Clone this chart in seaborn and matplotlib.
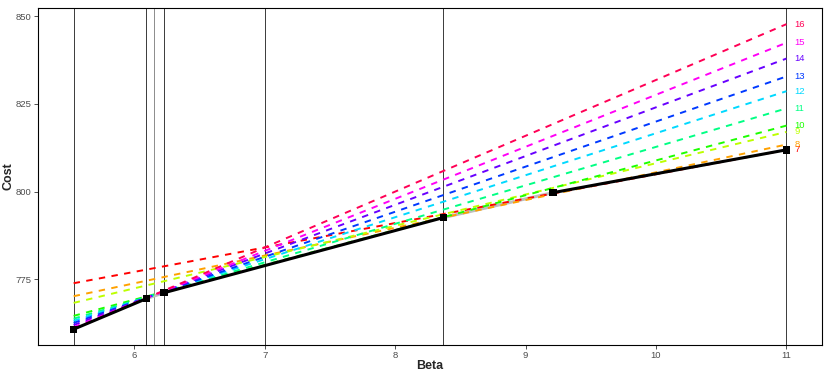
import colorsys
import matplotlib
matplotlib.use("Agg")
import matplotlib.pyplot as plt
import numpy as np
import pandas as pd
import seaborn as sns

# one dashed line per k, straight from the left edge to beta = 11
k_values = [7, 8, 9, 10, 11, 12, 13, 14, 15, 16]
beta_left = 5.535
beta_right = 11.0
cost_left = [773.9, 770.2, 768.3, 764.6, 763.8, 763.2, 762.6, 762.0, 761.4, 760.8]
cost_right = [811.9, 813.4, 817.0, 818.8, 823.7, 828.6, 832.8, 837.9, 842.4, 847.7]

# optimal path (black squares)
path_beta = [5.535, 6.092, 6.229, 8.37, 9.21, 11.0]
path_cost = [760.8, 769.5, 771.2, 792.6, 799.7, 811.9]

# vertical reference lines
vline_beta = [5.535, 6.092, 6.155, 6.229, 7.0, 8.37, 11.0]

sns.set_theme(style="white")
plt.rcParams['font.family'] = ['Liberation Sans', 'DejaVu Sans']

rows = []
for k, c0, c1 in zip(k_values, cost_left, cost_right):
    rows.append({'beta': beta_left, 'cost': c0, 'k': k})
    rows.append({'beta': beta_right, 'cost': c1, 'k': k})
df = pd.DataFrame(rows)

hues = np.linspace(0, 340 / 360, len(k_values))
palette = {k: colorsys.hsv_to_rgb(h, 1, 1) for k, h in zip(k_values, hues)}

fig = plt.figure(figsize=(8.3, 3.74), dpi=100)
ax = fig.add_axes([0.0458, 0.0775, 0.9446, 0.9011])

for b in vline_beta:
    col = '#8c8c8c' if b == 6.155 else '#3a3a3a'
    ax.axvline(b, color=col, lw=0.7, zorder=1)

# gray parts of the path
for i in (1, 3):
    ax.plot(path_beta[i:i + 2], path_cost[i:i + 2], color='#bebebe', lw=2.2,
            solid_capstyle='butt', zorder=1.5)

sns.lineplot(data=df, x='beta', y='cost', hue='k', style='k', palette=palette,
             dashes={k: (3.3, 3.3) for k in k_values}, linewidth=1.4,
             legend=False, ax=ax, zorder=2)

# black parts of the path
for i in (0, 2, 4):
    ax.plot(path_beta[i:i + 2], path_cost[i:i + 2], color='black', lw=2.2,
            solid_capstyle='butt', zorder=4)
sns.scatterplot(x=path_beta, y=path_cost, marker='s', color='black', s=28,
                edgecolor='none', ax=ax, zorder=5)

for k, c1 in zip(k_values, cost_right):
    ax.text(beta_right + 0.06, c1, str(k), color=palette[k], fontsize=6.8,
            ha='left', va='center')

ax.set_xlim(5.262, 11.273)
ax.set_ylim(756.3, 852.3)
ax.set_xticks([6, 7, 8, 9, 10, 11])
ax.set_yticks([775, 800, 825, 850])
ax.tick_params(bottom=True, left=True, length=3, width=0.6, color='#333333',
               labelsize=6.8, labelcolor='#4d4d4d', pad=1.5)
for s in ax.spines.values():
    s.set_color('black')
    s.set_linewidth(0.8)
ax.set_xlabel('Beta', fontsize=9, fontweight='bold', labelpad=0)
ax.set_ylabel('Cost', fontsize=9, fontweight='bold', labelpad=1)

fig.savefig('out.png', dpi=100)
plt.close()
